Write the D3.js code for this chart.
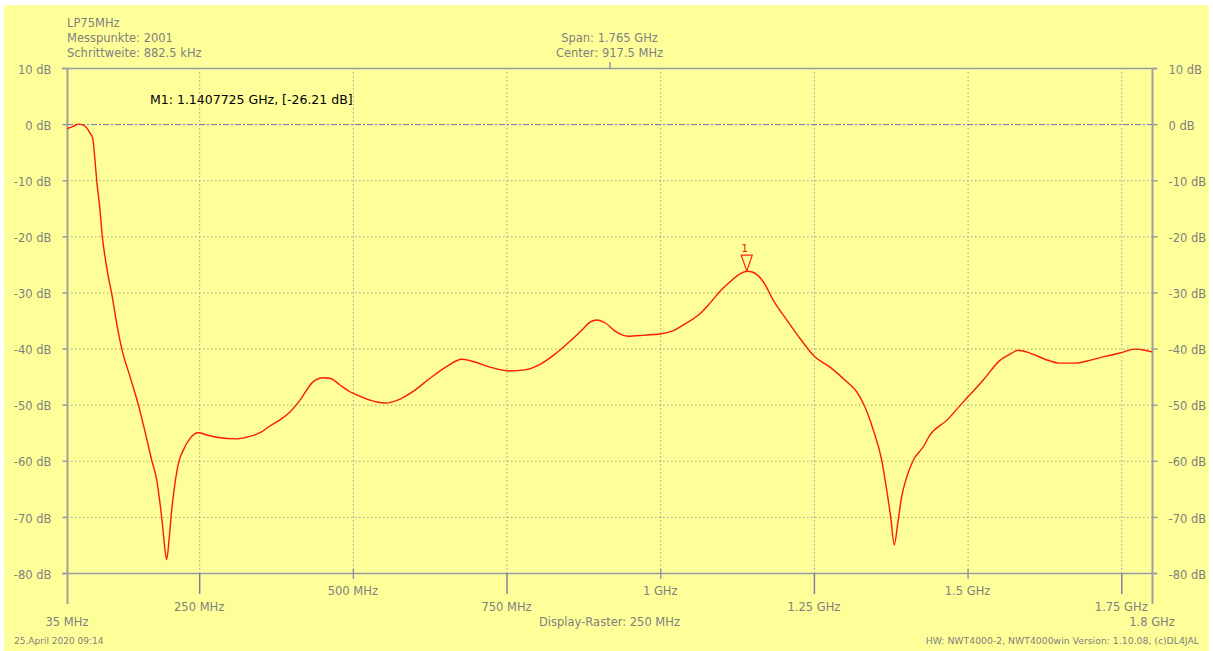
<!DOCTYPE html>
<html><head><meta charset="utf-8">
<script src="https://cdn.jsdelivr.net/npm/d3@7/dist/d3.min.js"></script>
<style>
html,body{margin:0;padding:0;background:#fff;}
svg text{font-family:"DejaVu Sans",Verdana,sans-serif;}
</style></head>
<body><svg id="c" width="1213" height="651"></svg>
<script>
// ---- data ----
const freqMHz = [35,45.2,53.4,58.9,65.9,72.4,76.8,80.5,83.3,88.7,92.4,96.8,102.2,107.7,115.8,124,137.5,151,161.9,172.8,180.9,186.3,190.7,194.4,197.2,201.4,205.3,210.7,216.1,224.2,235.1,248.6,262.3,278.5,311.1,327.3,349,365.2,381.5,397.8,414,435.7,451.9,462.8,479.1,495.4,511.6,527.9,552.3,576.7,601.1,625.5,649.9,677.6,698.7,723.1,755.6,780,804.5,828.9,853.3,872.8,885.8,897.2,910.2,926.5,947.7,975.3,999.7,1019.2,1040.4,1064.8,1081,1097.3,1113.6,1129.9,1140.8,1151,1167.7,1184,1205.8,1227.4,1251.8,1276.2,1303.4,1319.6,1333.1,1346.6,1360.3,1368.4,1374.9,1380.8,1386.3,1392.8,1401,1411.7,1428,1438.9,1466.1,1493.1,1525.6,1552.7,1569,1582,1601.5,1625.9,1650.3,1674.7,1699.1,1723.6,1748,1772.4,1788.7,1800];
const levelDB = [-0.8,-0.4,0,-0.1,-0.5,-1.6,-2.5,-6.4,-10,-15.3,-20,-23.6,-27.2,-30.2,-35.5,-40,-45,-50,-54.8,-59.9,-63.4,-67.6,-71.8,-75.9,-77.6,-73.6,-68.8,-64,-60.5,-58.1,-56,-55,-55.4,-55.8,-56.1,-55.8,-55,-53.8,-52.7,-51.3,-49.2,-45.9,-45.2,-45.3,-46.5,-47.7,-48.5,-49.2,-49.7,-49,-47.4,-45.3,-43.4,-41.9,-42.4,-43.3,-44,-43.8,-42.8,-41,-38.7,-36.7,-35.3,-34.9,-35.4,-36.9,-37.8,-37.6,-37.4,-36.9,-35.6,-33.8,-31.9,-29.8,-28.1,-26.7,-26.21,-26.4,-28.1,-31.4,-34.9,-38.2,-41.5,-43.3,-45.9,-47.7,-50.4,-54.5,-59.9,-65.2,-70,-75,-71.2,-66.4,-62.9,-59.9,-57.5,-55.4,-52.8,-49.5,-45.6,-42.1,-41,-40.3,-40.8,-41.9,-42.6,-42.6,-42.1,-41.4,-40.8,-40.1,-40.3,-40.6];
const xTicks = [35,250,500,750,1000,1250,1500,1750,1800];
const xTickLabels = ["35 MHz","250 MHz","500 MHz","750 MHz","1 GHz","1.25 GHz","1.5 GHz","1.75 GHz","1.8 GHz"];
const xTickLevel = [2,1,0,1,0,1,0,1,2];
const yTicks = [10,0,-10,-20,-30,-40,-50,-60,-70,-80];
const markerFreq = 1140.7725, markerDB = -26.21;
const headerLeft = ["LP75MHz","Messpunkte: 2001","Schrittweite: 882.5 kHz"];
const headerCenter = ["Span: 1.765 GHz","Center: 917.5 MHz"];
const centerFreq = 917.5;

// ---- drawing ----
const svg = d3.select("#c");
const L=67,R=1152,T=68,B=573;
const x = d3.scaleLinear().domain([35,1800]).range([L,R]);
const y = d3.scaleLinear().domain([-80,10]).range([B,T]);
const grey="#808080", axisC="#9a9aa6", FS="11.5px";

svg.append("rect").attr("x",4).attr("y",5).attr("width",1205).attr("height",646).attr("fill","#ffff99");

// grid
const g = svg.append("g");
g.selectAll(".hg").data(yTicks.filter(d=>d!==10&&d!==-80&&d!==0)).join("line")
 .attr("x1",L).attr("x2",R).attr("y1",d=>y(d)+0.5).attr("y2",d=>y(d)+0.5)
 .attr("stroke","#a0a090").attr("stroke-dasharray","1.5,2.5");
g.selectAll(".vg").data(xTicks.filter(d=>d!==35&&d!==1800)).join("line")
 .attr("x1",d=>x(d)+0.5).attr("x2",d=>x(d)+0.5).attr("y1",T).attr("y2",B)
 .attr("stroke","#a0a0a8").attr("stroke-dasharray","1.5,2.5");
// 0 dB reference
g.append("line").attr("x1",L).attr("x2",R).attr("y1",y(0)+0.5).attr("y2",y(0)+0.5)
 .attr("stroke","#6c6cbc").attr("stroke-dasharray","6,2,2,2");

// frame
svg.append("line").attr("x1",L-5).attr("x2",R+5).attr("y1",T+0.5).attr("y2",T+0.5).attr("stroke",axisC).attr("stroke-width",1.5);
svg.append("line").attr("x1",L-5).attr("x2",R+5).attr("y1",B+0.5).attr("y2",B+0.5).attr("stroke",axisC).attr("stroke-width",1.5);

// y axes
const yl = svg.append("g").attr("transform",`translate(${L+0.5},0)`)
 .call(d3.axisLeft(y).tickValues(yTicks).tickSize(5).tickPadding(11).tickFormat(d=>d+" dB"));
const yr = svg.append("g").attr("transform",`translate(${R+0.5},0)`)
 .call(d3.axisRight(y).tickValues(yTicks).tickSize(5).tickPadding(11).tickFormat(d=>d+" dB"));
[yl,yr].forEach(a=>{
  a.select(".domain").remove();
  a.selectAll(".tick line").attr("stroke",axisC).attr("stroke-width",1.5);
  a.selectAll(".tick text").attr("fill",grey).style("font-size",FS).style("font-family","'DejaVu Sans'").attr("dy","0.45em");
});
// vertical axis lines
svg.append("line").attr("x1",L+0.5).attr("x2",L+0.5).attr("y1",T).attr("y2",604).attr("stroke","#a0a0a0").attr("stroke-width",2);
svg.append("line").attr("x1",R+0.5).attr("x2",R+0.5).attr("y1",T).attr("y2",604).attr("stroke","#a0a0a0").attr("stroke-width",2);

// x ticks + labels
const baseY=[595,611,626];
xTicks.forEach((f,i)=>{
  const lv=xTickLevel[i];
  if(lv===0) svg.append("line").attr("x1",x(f)+0.5).attr("x2",x(f)+0.5).attr("y1",569).attr("y2",579).attr("stroke",axisC).attr("stroke-width",1.5);
  if(lv===1) svg.append("line").attr("x1",x(f)+0.5).attr("x2",x(f)+0.5).attr("y1",B).attr("y2",594).attr("stroke","#8080a0").attr("stroke-width",1.5);
  svg.append("text").attr("x",x(f)).attr("y",baseY[lv]).attr("text-anchor","middle")
   .attr("fill",grey).style("font-size",FS).text(xTickLabels[i]);
});
// center tick at top
svg.append("line").attr("x1",x(centerFreq)+0.5).attr("x2",x(centerFreq)+0.5).attr("y1",62).attr("y2",T).attr("stroke",axisC).attr("stroke-width",1.5);

// header text
headerLeft.forEach((t,i)=>svg.append("text").attr("x",67).attr("y",26.5+i*15.3).attr("fill",grey).style("font-size",FS).text(t));
headerCenter.forEach((t,i)=>svg.append("text").attr("x",x(centerFreq)).attr("y",41.5+i*15.3).attr("text-anchor","middle").attr("fill",grey).style("font-size",FS).text(t));
svg.append("text").attr("x",x(centerFreq)).attr("y",626).attr("text-anchor","middle").attr("fill",grey).style("font-size",FS).text("Display-Raster: 250 MHz");
svg.append("text").attr("x",14).attr("y",644).attr("fill",grey).style("font-size","9px").text("25.April 2020 09:14");
svg.append("text").attr("x",1199).attr("y",644).attr("text-anchor","end").attr("fill",grey).style("font-size","9.3px").text("HW: NWT4000-2, NWT4000win Version: 1.10.08, (c)DL4JAL");

// trace
const data = freqMHz.map((f,i)=>[f,levelDB[i]]);
svg.append("path").datum(data)
 .attr("d",d3.line().x(d=>x(d[0])).y(d=>y(d[1])).curve(d3.curveMonotoneX))
 .attr("fill","none").attr("stroke","#ff1a00").attr("stroke-width",1.4);

// marker
const mx=x(markerFreq), my=y(markerDB);
svg.append("path").attr("d",`M${mx},${my} L${mx-5.5},${my-16} L${mx+5.5},${my-16} Z`)
 .attr("fill","none").attr("stroke","#ff2020").attr("stroke-width",1.2);
svg.append("text").attr("x",mx-2).attr("y",my-19).attr("text-anchor","middle").attr("fill","#ff2020").style("font-size","11px").text("1");
svg.append("text").attr("x",150).attr("y",104).attr("fill","#000").style("font-size","12.5px")
 .text(`M1: ${(markerFreq/1000).toFixed(7)} GHz, [${markerDB} dB]`);
</script></body></html>
